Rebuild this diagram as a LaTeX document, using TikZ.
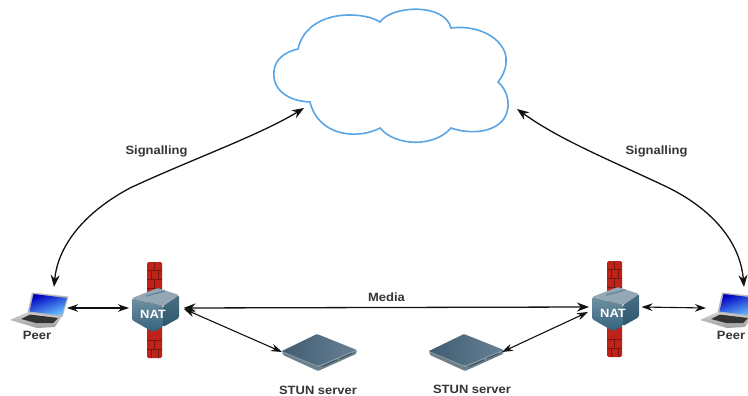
\documentclass[tikz,border=0pt]{standalone}
\usepackage{fontspec}
\setmainfont[FakeStretch=1.08]{Liberation Sans}
\usetikzlibrary{arrows.meta}
\definecolor{wallred}{HTML}{BE2218}
\definecolor{walldark}{HTML}{7A1610}
\definecolor{cloudblue}{HTML}{5AA5E6}
\definecolor{natfront}{HTML}{33627C}
\definecolor{natside}{HTML}{2C566E}
\definecolor{nattop}{HTML}{93A8B4}
\definecolor{srvtop}{HTML}{4C6C84}
\definecolor{srvedge}{HTML}{8AA0AE}
\definecolor{inkblack}{HTML}{111111}
\tikzset{
  x=1pt,y=-1pt,
  link/.style={inkblack,line width=1.3pt,{Stealth[length=12pt,width=9pt]}-{Stealth[length=12pt,width=9pt]}},
  smalllink/.style={inkblack,line width=1.1pt,{Stealth[length=11pt,width=7.5pt]}-{Stealth[length=11pt,width=7.5pt]}},
  caption/.style={font=\bfseries\fontsize{12}{12}\selectfont,text=inkblack!85,inner sep=0pt},
  cloudline/.style={draw=cloudblue,line width=1.6pt,line join=miter,fill=white},
  natbox/.pic={
    % brick wall
    \fill[wallred,rounded corners=1.5pt] (147,262) rectangle (162,358);
    \foreach \yy in {270,279,288,340,349}{\draw[walldark,line width=.5pt] (147,\yy)--(162,\yy);}
    \draw[walldark,line width=.5pt] (154,262)--(154,270) (151,270)--(151,279) (158,270)--(158,279) (154,279)--(154,288) (154,340)--(154,349) (151,349)--(151,358) (158,349)--(158,358);
    % box
    \shade[top color=natfront!70!white,bottom color=natfront,rounded corners=1.5pt] (132,298)--(163,306)--(163,327)--(153,332)--(132,320)--cycle;
    \shade[top color=natside!85!white,bottom color=natside,rounded corners=1.5pt] (163,306)--(179,295)--(179,318)--(163,327)--cycle;
    \fill[nattop,rounded corners=1pt] (132,298)--(158,288)--(179,295)--(163,306)--cycle;
    \draw[natfront!45!nattop,line width=1.5pt] (146,296)--(165,291);
    \node[caption,text=white] (-label) at (153,314.5) {NAT};
    \coordinate (-w) at (129,308);
    \coordinate (-e) at (181.5,308);
    \coordinate (-m) at (183.5,308);
    \coordinate (-se) at (184,309);
  },
  servbox/.pic={
    \fill[srvedge!80!black,rounded corners=1pt] (282,350)--(318,366)--(357,350)--(356,354)--(318,371)--(283,355)--cycle;
    \shade[left color=srvtop!85!black,right color=srvtop!85!white,rounded corners=1pt] (282,351)--(317,334)--(357,350)--(318,366)--cycle;
    \draw[srvedge,line width=.6pt] (283,352)--(318,366.5)--(356,350.5);
    \draw[srvtop!60!black,line width=.7pt] (322,366.5)--(337,360) (340,358.5)--(352,353.5);
    \coordinate (-nw) at (282,352);
  },
  laptopbox/.pic={
    \shade[top color=gray!35,bottom color=gray!75,rounded corners=1pt] (10,320)--(28,312)--(62,316)--(55,327)--(37,328)--cycle;
    \fill[gray!40!black] (21,319)--(30,314.5)--(58,318)--(53,323)--(36,323)--cycle;
    \fill[gray!55,rounded corners=.5pt] (32,292.5)--(68.5,296.5)--(62.5,317)--(27.5,312.5)--cycle;
    \shade[left color=blue!75!black,right color=blue!40!cyan!60,shading angle=20] (33.5,294)--(67,298)--(61.5,315.5)--(29.5,311.5)--cycle;
    \coordinate (-e) at (67,308);
    \coordinate (-top) at (54,287);
  }
}
\begin{document}
\begin{tikzpicture}
\useasboundingbox (0,0) rectangle (748,396);
\clip (0,0) rectangle (748,396);
\fill[white] (0,0) rectangle (748,396);

% cloud
\path[cloudline] (298,49)
  .. controls (303,26) and (325,15) .. (349,15)
  .. controls (361,15) and (372,17) .. (380,22)
  .. controls (392,5) and (445,3) .. (451,28)
  .. controls (482,24) and (508,42) .. (506,62)
  .. controls (506,70) and (502,77) .. (498,82)
  .. controls (507,90) and (510,102) .. (507,112)
  .. controls (502,131) and (474,136) .. (451,128)
  .. controls (435,147) and (396,147) .. (380,128)
  .. controls (360,139) and (319,138) .. (310,102)
  .. controls (288,101) and (272,90) .. (274,71)
  .. controls (275,60) and (284,52) .. (298,49) -- cycle;
\coordinate (cloudL) at (304,108);
\coordinate (cloudR) at (517,109);

% equipment
\pic (natL) at (0,0) {natbox};
\pic (natR) at (460,-1) {natbox};
\pic (stunL) at (0,0) {servbox};
\pic (stunR) at (147,0) {servbox};
\pic (peerL) at (0,0) {laptopbox};
\pic (peerR) at (690,0) {laptopbox};
\coordinate (stunRe) at (502,352);
\coordinate (peerRw) at (706,308);
\coordinate (peerRt) at (744,287);
\coordinate (natRs) at (588,312);
\coordinate (midL) at (130,188);
\coordinate (midR) at (667,187);

% labels
\node[caption] (sigL) at (156.5,151) {Signalling};
\node[caption] (sigR) at (656.5,151) {Signalling};
\node[caption] (media) at (386.5,297.5) {Media};
\node[caption] (peerLl) at (37,335) {Peer};
\node[caption] (peerRl) at (731,335) {Peer};
\node[caption] (stunLl) at (318,390.5) {STUN server};
\node[caption] (stunRl) at (472,389.5) {STUN server};

% connectors
\draw[link] (cloudL) .. controls (260,135) and (190,160) .. (midL) .. controls (85,212) and (58,245) .. (peerL-top);
\draw[link] (cloudR) .. controls (560,140) and (610,160) .. (midR) .. controls (710,208) and (740,240) .. (peerRt);
\draw[link] (natL-m) -- (natR-w);
\draw[smalllink] (peerL-e) -- (natL-w);
\draw[smalllink] (natR-e) -- (peerRw);
\draw[smalllink] (natL-se) -- (stunL-nw);
\draw[smalllink] (natRs) -- (stunRe);
\end{tikzpicture}
\end{document}
